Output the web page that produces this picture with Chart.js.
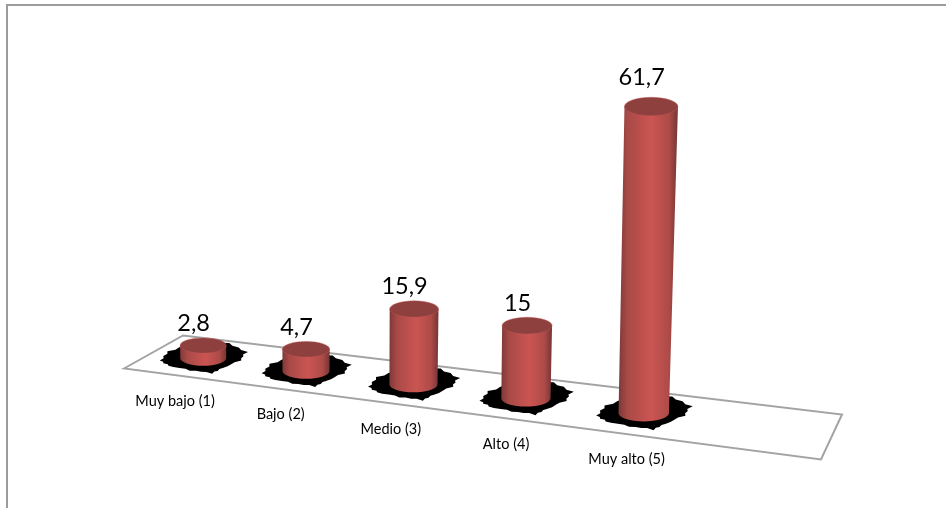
<!DOCTYPE html>
<html>
<head>
<meta charset="utf-8">
<title>Muy bajo - Muy alto</title>
<script src="https://cdn.jsdelivr.net/npm/chart.js@4"></script>
<style>
    html, body { margin: 0; padding: 0; background: #fff; overflow: hidden; }
    #wrap { position: relative; width: 946px; height: 508px; }
    #frame {
        position: absolute; left: 6px; top: 4px; right: 0; bottom: 0;
        border-left: 2px solid #9c9c9c; border-top: 2px solid #9c9c9c;
    }
    canvas { position: absolute; left: 0; top: 0; }
</style>
</head>
<body>
<div id="wrap">
    <div id="frame"></div>
    <canvas id="chart" width="946" height="508"></canvas>
</div>
<script>
// Chart data
const categories = ['Muy bajo (1)', 'Bajo (2)', 'Medio (3)', 'Alto (4)', 'Muy alto (5)'];
const values = [2.8, 4.7, 15.9, 15, 61.7];
const valueLabels = ['2,8', '4,7', '15,9', '15', '61,7'];
// The original sheet had one empty row, so the floor keeps a free slot on the right
const emptySlot = [''];

// Floor perspective: chart area x is bent onto the slanted floor
const floorLeft = 153.5, floorMidY = 352, floorSlope = 0.1247;
const bendA = 590.4, bendC = -0.129;

function project(u) {
    const d = 1 + bendC * u;
    const x = floorLeft + bendA * u / d;
    return { x: x, y: floorMidY + floorSlope * (x - floorLeft), scale: 1 / d };
}

// Black jagged shadow under each cylinder, outline
const shadowOutline = [[-1, 0.15], [-0.8, -0.45], [-0.3, -1], [0.6, -1], [1, -0.4], [0.85, 0.15], [0.45, 0.65], [0.2, 1], [-0.3, 0.8], [-0.8, 0.5]];
const shadowJag = [1, 0.96, 1.02, 0.97, 1.03, 0.95, 1, 0.98, 1.03, 0.96, 0.99, 1.02];

function drawFloor(ctx) {
    ctx.beginPath();
    ctx.moveTo(124, 368.5);
    ctx.lineTo(183, 335.5);
    ctx.lineTo(842, 414.5);
    ctx.lineTo(821, 459.5);
    ctx.closePath();
    ctx.strokeStyle = '#a3a3a3';
    ctx.lineWidth = 2;
    ctx.stroke();
}

function drawShadow(ctx, p) {
    const hw = 43 * p.scale, hh = 15 * p.scale;
    const steps = 4;
    let n = 0;
    ctx.beginPath();
    shadowOutline.forEach((pt, i) => {
        const next = shadowOutline[(i + 1) % shadowOutline.length];
        for (let s = 0; s < steps; s++) {
            const t = s / steps;
            const k = shadowJag[n++ % shadowJag.length];
            const sx = (pt[0] + (next[0] - pt[0]) * t) * k;
            const sy = (pt[1] + (next[1] - pt[1]) * t) * k;
            ctx.lineTo(p.x + sx * hw, p.y + sy * hh);
        }
    });
    ctx.closePath();
    ctx.fillStyle = '#000';
    ctx.fill();
}

function drawCylinder(ctx, p, h) {
    const rx = 22.75 * p.scale, ry = 7.5 * p.scale;
    // Tall bars lean and widen a bit towards the viewer
    const lean = (p.x - 300) * h * 0.000071;
    const topX = p.x + lean, topY = p.y - h;
    const topRx = rx * (1 + h / 5000), topRy = ry * (1 + h / 3000);

    const left = Math.min(p.x - rx, topX - topRx), right = Math.max(p.x + rx, topX + topRx);
    const grad = ctx.createLinearGradient(left, 0, right, 0);
    grad.addColorStop(0, '#7e3938');
    grad.addColorStop(0.15, '#a84a47');
    grad.addColorStop(0.55, '#cb5552');
    grad.addColorStop(0.85, '#ad4b48');
    grad.addColorStop(1, '#743534');

    ctx.beginPath();
    ctx.moveTo(topX - topRx, topY);
    ctx.lineTo(p.x - rx, p.y);
    ctx.ellipse(p.x, p.y, rx, ry, 0, Math.PI, 0, true);
    ctx.lineTo(topX + topRx, topY);
    ctx.closePath();
    ctx.fillStyle = grad;
    ctx.fill();

    // Top cap
    ctx.beginPath();
    ctx.ellipse(topX, topY, topRx, topRy, 0, 0, Math.PI * 2);
    ctx.fillStyle = '#8e403e';
    ctx.fill();
    ctx.strokeStyle = 'rgba(190, 85, 82, 0.45)';
    ctx.lineWidth = 1;
    ctx.stroke();

    return { x: topX, y: topY };
}

const cylinderPlugin = {
    id: 'cylinders',
    afterDatasetsDraw(chart) {
        const ctx = chart.ctx;
        const area = chart.chartArea;
        const bars = chart.getDatasetMeta(0).data;
        ctx.save();
        drawFloor(ctx);

        const spots = bars.map(bar => {
            const u = (bar.x - area.left) / area.width;
            return { p: project(u), u: u };
        });
        spots.forEach(s => drawShadow(ctx, s.p));

        bars.forEach((bar, i) => {
            const s = spots[i];
            const h = (bar.base - bar.y) * s.p.scale;
            const top = drawCylinder(ctx, s.p, h);

            // Value above the cylinder
            ctx.fillStyle = '#000';
            ctx.textAlign = 'center';
            ctx.textBaseline = 'middle';
            ctx.font = '23.5px Lato, sans-serif';
            ctx.fillText(valueLabels[i], top.x - 9.5, top.y - 22 - Math.max(0, h - 72) / 35);

            // Category name on the floor edge
            ctx.font = '14.5px Lato, sans-serif';
            ctx.fillText(categories[i], s.p.x - 29.5 + 16.5 * s.u, s.p.y + 42.5 + 5 * s.u);
        });
        ctx.restore();
    }
};

new Chart(document.getElementById('chart'), {
    type: 'bar',
    data: {
        labels: categories.concat(emptySlot),
        datasets: [{
            data: values,
            backgroundColor: 'transparent',
            borderWidth: 0
        }]
    },
    options: {
        responsive: false,
        animation: false,
        // Flat plot box: 678 px wide along the floor, about 4.5 px per unit high
        layout: { padding: { left: 153.5, right: 114.5, top: 60, bottom: 136 } },
        plugins: { legend: { display: false }, tooltip: { enabled: false } },
        scales: {
            x: { display: false },
            y: { display: false, min: 0, max: 69.5 }
        }
    },
    plugins: [cylinderPlugin]
});
</script>
</body>
</html>
